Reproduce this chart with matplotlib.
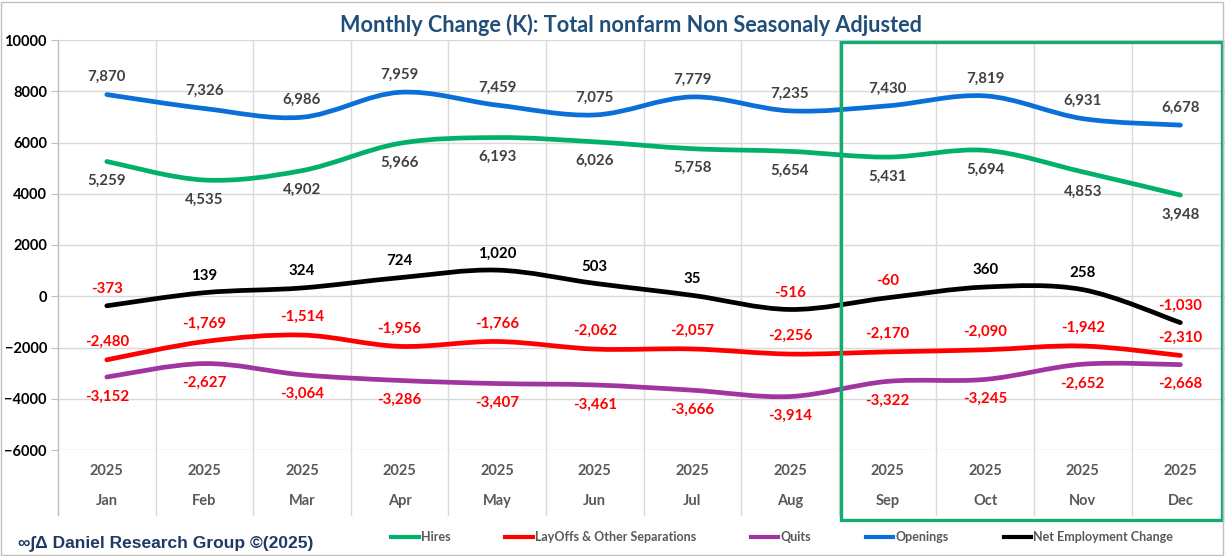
import matplotlib
matplotlib.use("Agg")
import numpy as np
import matplotlib.pyplot as plt
from matplotlib.path import Path
from matplotlib.patches import PathPatch, Rectangle
from matplotlib.lines import Line2D

plt.rcParams.update({"font.family": ["Lato", "DejaVu Sans"], "font.weight": "bold"})

# ---- data ----
months = ["Jan", "Feb", "Mar", "Apr", "May", "Jun", "Jul", "Aug", "Sep", "Oct", "Nov", "Dec"]
years = ["2025"] * 12
hires = [5259, 4535, 4902, 5966, 6193, 6026, 5758, 5654, 5431, 5694, 4853, 3948]
layoffs = [-2480, -1769, -1514, -1956, -1766, -2062, -2057, -2256, -2170, -2090, -1942, -2310]
quits = [-3152, -2627, -3064, -3286, -3407, -3461, -3666, -3914, -3322, -3245, -2652, -2668]
openings = [7870, 7326, 6986, 7959, 7459, 7075, 7779, 7235, 7430, 7819, 6931, 6678]
net = [-373, 139, 324, 724, 1020, 503, 35, -516, -60, 360, 258, -1030]
highlight_from = "Sep"

GREEN = "#00B06B"; RED = "#FF0000"; PURPLE = "#A035A0"; BLUE = "#0A6FD8"; BLACK = "#000000"
LBL = "#404040"; GRID = "#D9D9D9"

W, H = 1225, 556
fig = plt.figure(figsize=(W / 100, H / 100), dpi=100)
fig.patch.set_facecolor("white")
ax = fig.add_axes([58 / W, 1 - 450 / H, (W - 58) / W, 410 / H])
x = np.arange(len(months))
xr = -0.5 + (W - 58) / 97.6
ax.set_xlim(-0.5, xr)
ax.set_ylim(-6000, 10000)


def smooth_path(xs, ys):
    # Excel-style smoothed line: cubic Bezier through every point
    P = np.column_stack([xs, ys]).astype(float)
    ext = np.vstack([P[0], P, P[-1]])
    verts = [P[0]]
    codes = [Path.MOVETO]
    for i in range(len(P) - 1):
        p0, p1, p2, p3 = ext[i], ext[i + 1], ext[i + 2], ext[i + 3]
        verts += [p1 + (p2 - p0) / 6, p2 - (p3 - p1) / 6, p2]
        codes += [Path.CURVE4] * 3
    return Path(verts, codes)


series = [
    ("Hires", hires, GREEN, -14, lambda v: LBL),
    ("LayOffs & Other Separations", layoffs, RED, 13, lambda v: RED),
    ("Quits", quits, PURPLE, -14, lambda v: RED),
    ("Openings", openings, BLUE, 12.5, lambda v: LBL),
    ("Net Employment Change", net, BLACK, 12, lambda v: RED if v < 0 else BLACK),
]

handles = []
for name, vals, c, off, lc in series:
    ax.add_patch(PathPatch(smooth_path(x, vals), facecolor="none", edgecolor=c,
                           lw=3.4, capstyle="round", zorder=3))
    for xi, v in zip(x, vals):
        ax.annotate(f"{v:,}", (xi, v), xytext=(0, off), textcoords="offset points",
                    ha="center", va="center", fontsize=10.8, fontweight="bold", color=lc(v))
    handles.append(Line2D([], [], color=c, lw=3, label=name))

# grid and axes
for yv in range(-6000, 10001, 2000):
    ax.axhline(yv, color=GRID, lw=1, zorder=0)
for k in range(1, len(months)):
    ax.plot([k - 0.5, k - 0.5], [-6000 - 2540, 10000], color=GRID, lw=1, zorder=0, clip_on=False)
ax.plot([-0.5, -0.5], [-6000 - 2540, 10000], color="#BFBFBF", lw=1, zorder=1, clip_on=False)
for s in ax.spines.values():
    s.set_visible(False)
ax.set_yticks(range(-6000, 10001, 2000))
ax.tick_params(axis="y", length=5, color="#BFBFBF", pad=3, labelsize=10.5)
for t in ax.get_yticklabels():
    t.set_fontweight("bold")
ax.set_xticks(x)
ax.set_xticklabels([f"{y}\n{m}" for y, m in zip(years, months)], linespacing=2.45,
                   fontsize=10.5, color="#595959", fontweight="bold")
ax.tick_params(axis="x", length=0, pad=10)

# highlight box
hs = months.index(highlight_from) - 0.48
ax.add_patch(Rectangle((hs, -6000 - 2735), xr - 0.035 - hs, 16000 + 2735 - 78,
                       facecolor="none", edgecolor="#13AC6E", lw=2.4, clip_on=False, zorder=5))

fig.text(631 / W, 1 - 25 / H, "Monthly Change (K): Total nonfarm Non Seasonaly Adjusted",
         ha="center", va="center", fontsize=15.6, fontweight="bold", color="#1F4E79")

fig.legend(handles=handles, loc="center", bbox_to_anchor=(782 / W, 1 - 537 / H), ncol=5,
           frameon=False, handlelength=2.2, handletextpad=0.15, columnspacing=4.4,
           labelcolor="#595959", prop={"weight": "bold", "size": 9})

fig.text(18 / W, 1 - 543 / H, "∞∫Δ Daniel Research Group ©(2025)", ha="left", va="center",
         fontsize=12.5, fontweight="bold", color="#1F3864",
         family=["Liberation Sans", "DejaVu Sans"])

fig.add_artist(Rectangle((0.001, 0.001), 0.997, 0.996, transform=fig.transFigure,
                         facecolor="none", edgecolor="#BFBFBF", lw=1))

fig.savefig("out.png", dpi=100, facecolor="white")
